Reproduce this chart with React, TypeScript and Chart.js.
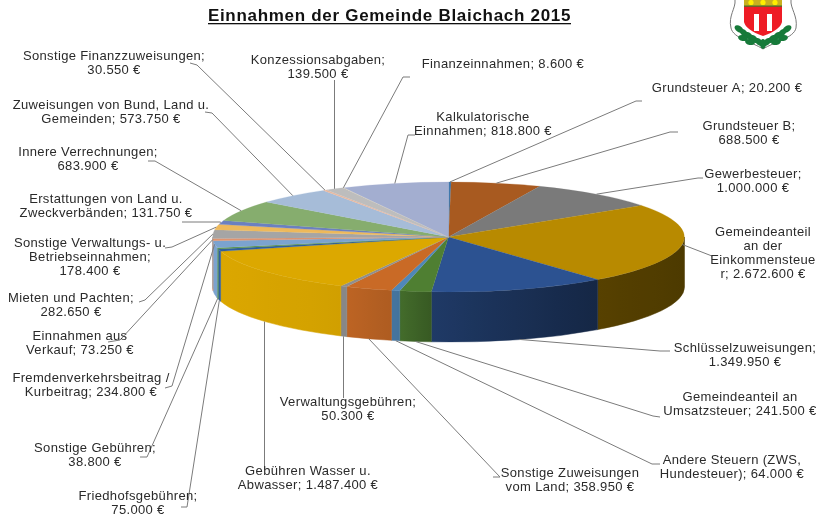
import React, { useEffect, useRef } from "react";
import { Chart, registerables } from "chart.js";

Chart.register(...registerables);

const categories = [
  "Grundsteuer A", "Grundsteuer B", "Gewerbesteuer", "Gemeindeanteil an der Einkommensteuer",
  "Schlüsselzuweisungen", "Gemeindeanteil an Umsatzsteuer", "Andere Steuern (ZWS, Hundesteuer)",
  "Sonstige Zuweisungen vom Land", "Verwaltungsgebühren", "Gebühren Wasser u. Abwasser",
  "Friedhofsgebühren", "Sonstige Gebühren", "Fremdenverkehrsbeitrag / Kurbeitrag",
  "Einnahmen aus Verkauf", "Mieten und Pachten", "Sonstige Verwaltungs- u. Betriebseinnahmen",
  "Erstattungen von Land u. Zweckverbänden", "Innere Verrechnungen",
  "Zuweisungen von Bund, Land u. Gemeinden", "Sonstige Finanzzuweisungen",
  "Konzessionsabgaben", "Finanzeinnahmen", "Kalkulatorische Einnahmen",
];
const values = [
  20200, 688500, 1000000, 2672600, 1349950, 241500, 64000, 358950, 50300, 1487400, 75000, 38800,
  234800, 73250, 282650, 178400, 131750, 683900, 573750, 30550, 139500, 8600, 818800,
];
const colors = [
  "#3f78ad", "#a85a20", "#7a7a7a", "#b88a00", "#2c5291", "#4f7f32", "#4f87b8", "#c96a26",
  "#8f8f8f", "#dca800", "#2f5e9e", "#5a9446", "#7ba3cf", "#e0936e", "#a5a5a5", "#eeb95a",
  "#6b80c0", "#86ad6e", "#a6bcd8", "#e9b9a0", "#bdbdbd", "#e4d6b8", "#a3aed0",
];
const labelLines = [
  ["Grundsteuer A; 20.200 €"], ["Grundsteuer B;", "688.500 €"], ["Gewerbesteuer;", "1.000.000 €"],
  ["Gemeindeanteil", "an der", "Einkommensteue", "r; 2.672.600 €"], ["Schlüsselzuweisungen;", "1.349.950 €"],
  ["Gemeindeanteil an", "Umsatzsteuer; 241.500 €"], ["Andere Steuern (ZWS,", "Hundesteuer); 64.000 €"],
  ["Sonstige Zuweisungen", "vom Land; 358.950 €"], ["Verwaltungsgebühren;", "50.300 €"],
  ["Gebühren Wasser u.", "Abwasser; 1.487.400 €"], ["Friedhofsgebühren;", "75.000 €"],
  ["Sonstige Gebühren;", "38.800 €"], ["Fremdenverkehrsbeitrag /", "Kurbeitrag; 234.800 €"],
  ["Einnahmen aus", "Verkauf; 73.250 €"], ["Mieten und Pachten;", "282.650 €"],
  ["Sonstige Verwaltungs- u.", "Betriebseinnahmen;", "178.400 €"],
  ["Erstattungen von Land u.", "Zweckverbänden; 131.750 €"], ["Innere Verrechnungen;", "683.900 €"],
  ["Zuweisungen von Bund, Land u.", "Gemeinden; 573.750 €"], ["Sonstige Finanzzuweisungen;", "30.550 €"],
  ["Konzessionsabgaben;", "139.500 €"], ["Finanzeinnahmen; 8.600 €"], ["Kalkulatorische", "Einnahmen; 818.800 €"],
];
// Layout: centre x and first-line y of each label.
const labelX = [727, 749, 753, 763, 745, 740, 732, 570, 348, 308, 138, 95, 91, 80, 71, 90, 106, 88, 111, 114, 318, 503, 483];
const labelY = [88, 126, 174, 232, 348, 397, 460, 473, 402, 471, 496, 448, 378, 336, 298, 243, 199, 152, 105, 56, 60, 64, 117];
// Layout: leader polylines run from the slice edge through these points.
const leaderPoints: number[][][] = [
  [[636, 101], [642, 101]], [[670, 132], [678, 132]], [[698, 178], [703, 178]], [[712, 256]],
  [[660, 351], [670, 351]], [[653, 416], [660, 417]], [[652, 464], [660, 464]], [[500, 477], [493, 477]],
  [[343.5, 398]], [[264.5, 470]], [[187, 507], [181, 507]], [[147, 457], [140, 457]], [[172, 386], [165, 388]],
  [[120, 340], [108, 342]], [[145, 300], [139, 302]], [[172, 247], [165, 248]], [[220, 222], [182, 222]],
  [[155, 161], [148, 161]], [[212, 113], [205, 112]], [[197, 65], [190, 63]], [[334.5, 80]],
  [[403, 77], [410, 77]], [[408, 135], [415, 135]],
];
const titleText = "Einnahmen der Gemeinde Blaichach 2015";

const CX = 448.5, CY = 237, R = 236, RY = 55, DEPTH = 50;
const W = 819, H = 524;
const FONT = '"Liberation Sans", Arial, sans-serif';

const shadeStops = [[212, 1], [340, 0.95], [400, 0.85], [432, 0.7], [600, 0.47], [684, 0.42]];
function shadeAt(x: number) {
  for (let i = 1; i < shadeStops.length; i++) {
    const [x0, s0] = shadeStops[i - 1], [x1, s1] = shadeStops[i];
    if (x <= x1) return s0 + ((s1 - s0) * (x - x0)) / (x1 - x0);
  }
  return 0.42;
}
function shaded(hex: string, f: number) {
  const n = parseInt(hex.slice(1), 16);
  return `rgb(${((n >> 16) & 255) * f},${((n >> 8) & 255) * f},${(n & 255) * f})`;
}

const pie3d = {
  id: "pie3d",
  beforeDatasetsDraw(chart: any) {
    const ctx = chart.ctx as CanvasRenderingContext2D;
    const arcs = chart.getDatasetMeta(0).data;
    arcs.forEach((arc: any, i: number) => {
      const a0 = Math.max(arc.startAngle, 0);
      const a1 = Math.min(arc.endAngle, Math.PI);
      if (a1 <= a0) return;
      const xa = arc.x + R * Math.cos(a0), xb = arc.x + R * Math.cos(a1);
      const left = Math.min(xa, xb), right = Math.max(xa, xb);
      const g = ctx.createLinearGradient(left, 0, right + 0.01, 0);
      for (let k = 0; k <= 8; k++) g.addColorStop(k / 8, shaded(colors[i], shadeAt(left + ((right - left) * k) / 8)));
      ctx.beginPath();
      ctx.ellipse(arc.x, arc.y, R, RY, 0, a0, a1);
      ctx.ellipse(arc.x, arc.y + DEPTH, R, RY, 0, a1, a0, true);
      ctx.closePath();
      ctx.fillStyle = g;
      ctx.fill();
      ctx.strokeStyle = g;
      ctx.lineWidth = 0.5;
      ctx.stroke();
    });
    ctx.save();
    ctx.translate(CX, CY);
    ctx.scale(1, RY / R);
    ctx.translate(-CX, -CY);
  },
  afterDatasetsDraw(chart: any) {
    const ctx = chart.ctx as CanvasRenderingContext2D;
    ctx.restore();
    const arcs = chart.getDatasetMeta(0).data;
    // leaders
    ctx.strokeStyle = "#7b7b7b";
    ctx.lineWidth = 1;
    arcs.forEach((arc: any, i: number) => {
      const mid = (arc.startAngle + arc.endAngle) / 2;
      const deg = ((mid + Math.PI / 2) * 180) / Math.PI;
      let x = arc.x + R * Math.cos(mid);
      const y = arc.y + RY * Math.sin(mid) + (deg > 100 && deg < 260 ? DEPTH : 0);
      if (leaderPoints[i].length === 1 && Math.abs(leaderPoints[i][0][0] - x) < 1.5) x = leaderPoints[i][0][0];
      ctx.beginPath();
      ctx.moveTo(x, y);
      leaderPoints[i].forEach((p) => ctx.lineTo(p[0], p[1]));
      ctx.stroke();
    });
    // labels
    ctx.fillStyle = "#2a2a2a";
    ctx.textAlign = "center";
    ctx.textBaseline = "middle";
    ctx.font = `13px ${FONT}`;
    (ctx as any).letterSpacing = "0.35px";
    labelLines.forEach((lines, i) => {
      lines.forEach((line, j) => {
        const gap = lines.length > 2 ? 14.3 : 14;
        ctx.fillText(line, labelX[i], labelY[i] + j * gap);
      });
    });
    // title
    ctx.fillStyle = "#111";
    ctx.font = `bold 17px ${FONT}`;
    (ctx as any).letterSpacing = "0.7px";
    ctx.fillText(titleText, 389.5, 16);
    (ctx as any).letterSpacing = "0px";
    ctx.fillRect(208, 23, 363, 1.3);
    drawCrest(ctx);
  },
};

function drawCrest(ctx: CanvasRenderingContext2D) {
  // outer shield
  ctx.beginPath();
  ctx.moveTo(735, 0);
  ctx.bezierCurveTo(736, 8, 728, 16, 731, 28);
  ctx.bezierCurveTo(733, 38, 752, 42, 763, 49);
  ctx.bezierCurveTo(774, 42, 794, 38, 796, 28);
  ctx.bezierCurveTo(798, 16, 790, 8, 791, 0);
  ctx.fillStyle = "#fff";
  ctx.fill();
  ctx.strokeStyle = "#777";
  ctx.lineWidth = 1;
  ctx.stroke();
  // red field
  ctx.beginPath();
  ctx.moveTo(744, 0);
  ctx.lineTo(744, 22);
  ctx.quadraticCurveTo(746, 30, 763, 36);
  ctx.quadraticCurveTo(780, 30, 782, 22);
  ctx.lineTo(782, 0);
  ctx.closePath();
  ctx.fillStyle = "#ee1c25";
  ctx.fill();
  ctx.fillStyle = "#c8b020";
  ctx.fillRect(744, 0, 38, 6);
  ctx.fillStyle = "#3c7a2c";
  ctx.fillRect(744, 5.5, 38, 1.2);
  ctx.fillStyle = "#ffee00";
  [751, 763, 775].forEach((x) => {
    ctx.beginPath();
    ctx.arc(x, 2.5, 2.6, 0, 2 * Math.PI);
    ctx.fill();
  });
  ctx.fillStyle = "#fff";
  ctx.fillRect(754, 14, 5, 17);
  ctx.fillRect(767, 14, 5, 17);
  // oak leaves
  ctx.fillStyle = "#177a3a";
  const leaves = [
    [739, 29, 0.6], [744, 33, 0.7], [749, 36, 0.7], [754, 39, 0.7], [759, 42, 0.7], [743, 38, 0.2], [750, 42, 0.2],
    [787, 29, -0.6], [782, 33, -0.7], [777, 36, -0.7], [772, 39, -0.7], [767, 42, -0.7], [783, 38, -0.2], [776, 42, -0.2],
    [763, 44, 1.57],
  ];
  leaves.forEach(([x, y, a]) => {
    ctx.beginPath();
    ctx.ellipse(x, y, 5, 3, a, 0, 2 * Math.PI);
    ctx.fill();
  });
}

export default function App() {
  const ref = useRef<HTMLCanvasElement>(null);
  useEffect(() => {
    document.body.style.margin = "0";
    document.body.style.background = "#fff";
    const chart = new Chart(ref.current!, {
      type: "pie",
      data: {
        labels: categories,
        datasets: [{ data: values, backgroundColor: colors, borderColor: colors, borderWidth: 0.4 }],
      },
      options: {
        responsive: false,
        animation: false,
        rotation: 0,
        layout: {
          padding: { left: CX - R, top: CY - R, right: W - CX - R, bottom: H - CY - R },
        },
        plugins: { legend: { display: false }, tooltip: { enabled: false }, title: { display: false } },
      },
      plugins: [pie3d],
    } as any);
    return () => chart.destroy();
  }, []);
  return <canvas ref={ref} width={W} height={H} style={{ display: "block", width: W, height: H }} />;
}
